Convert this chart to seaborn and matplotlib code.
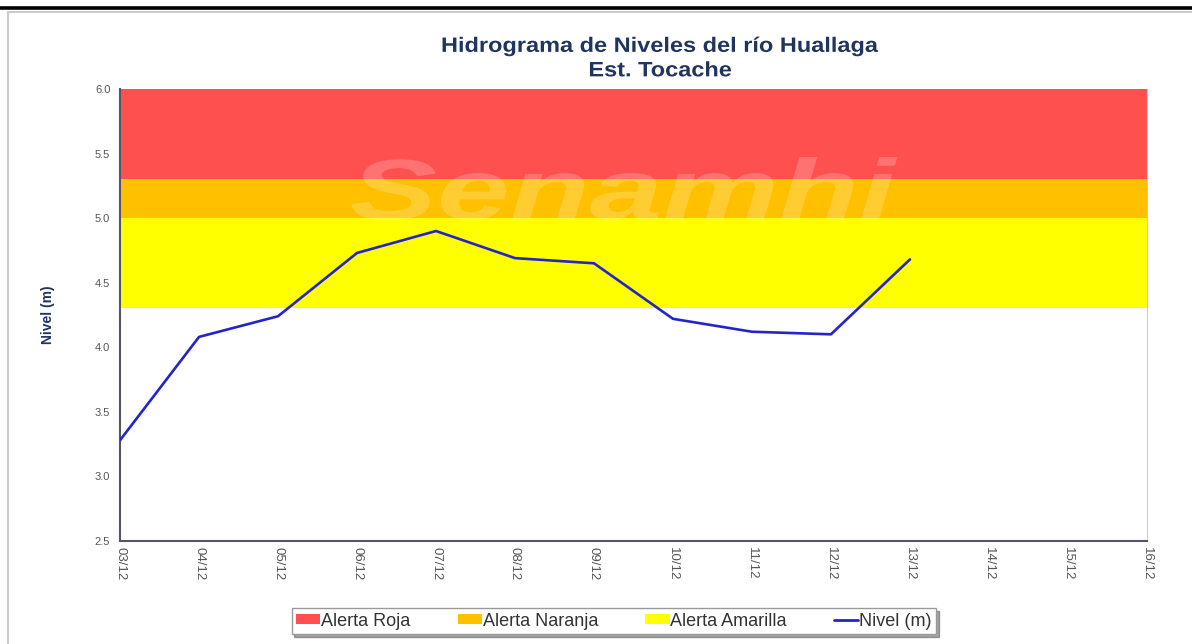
import matplotlib
matplotlib.use("Agg")
import matplotlib.pyplot as plt
from matplotlib.patches import Patch
from matplotlib.lines import Line2D
from matplotlib.patheffects import AbstractPathEffect
from matplotlib.transforms import Affine2D
import seaborn as sns
import pandas as pd

# %% DATA
fechas = ["03/12", "04/12", "05/12", "06/12", "07/12", "08/12", "09/12",
          "10/12", "11/12", "12/12", "13/12", "14/12", "15/12", "16/12"]
nivel = [3.28, 4.08, 4.24, 4.73, 4.90, 4.69, 4.65, 4.22, 4.12, 4.10, 4.68]

alertas = ["Alerta Roja", "Alerta Naranja", "Alerta Amarilla"]
alerta_desde = [5.3, 5.0, 4.3]
alerta_hasta = [6.0, 5.3, 5.0]
alerta_colores = ["#FF5050", "#FFC000", "#FFFF00"]

y_ticks = [2.5, 3.0, 3.5, 4.0, 4.5, 5.0, 5.5, 6.0]


class Stretch(AbstractPathEffect):
    """widen text horizontally around a fixed pixel column"""
    def __init__(self, sx, cx):
        super().__init__()
        self.sx, self.cx = sx, cx

    def draw_path(self, renderer, gc, tpath, affine, rgbFace=None):
        aff = affine + Affine2D().translate(-self.cx, 0).scale(self.sx, 1).translate(self.cx, 0)
        renderer.draw_path(gc, tpath, aff, rgbFace)


# %% PLOT
sns.set_style("white")
plt.rcParams["font.family"] = ["Liberation Sans", "DejaVu Sans"]

fig = plt.figure(figsize=(11.92, 6.44), dpi=100)
ax = fig.add_axes([0.1007, 0.16, 0.8615, 0.7019])

for lo, hi, c in zip(alerta_desde, alerta_hasta, alerta_colores):
    ax.axhspan(lo, hi, color=c, lw=0, zorder=0)

df = pd.DataFrame({"dia": range(len(nivel)), "nivel": nivel})
sns.lineplot(data=df, x="dia", y="nivel", ax=ax, color="#2424C8", lw=1.9, zorder=3)

# watermark
ax.text(6.35, 5.16, "Senamhi", ha="center", va="center", fontsize=62,
        fontweight="bold", fontstyle="italic", color="white", alpha=0.2, zorder=2,
        path_effects=[Stretch(1.52, 620)])

ax.set_xlim(0, len(fechas) - 1)
ax.set_ylim(2.5, 6.0)
ax.set_xticks(range(len(fechas)))
ax.set_xticklabels(fechas, rotation=270)
ax.set_yticks(y_ticks)
ax.set_yticklabels([f"{v:.1f}" for v in y_ticks])
ax.set_xlabel("")
ax.set_ylabel("")
ax.tick_params(direction="in", length=3, width=1, colors="#666666",
               labelcolor="#555555")
ax.tick_params(axis="y", labelsize=8, pad=7)
ax.tick_params(axis="x", labelsize=9.5, pad=4)

for s in ["left", "bottom"]:
    ax.spines[s].set_color("#555566")
    ax.spines[s].set_linewidth(1.5)
ax.spines["top"].set_visible(False)
ax.spines["right"].set_color("#cccccc")
ax.spines["right"].set_linewidth(0.8)

fig.text(0.554, 0.928, "Hidrograma de Niveles del río Huallaga", ha="center", va="center",
         fontsize=15, fontweight="bold", color="#1F3560", path_effects=[Stretch(1.13, 660)])
fig.text(0.554, 0.890, "Est. Tocache", ha="center", va="center",
         fontsize=15, fontweight="bold", color="#1F3560", path_effects=[Stretch(1.13, 660)])
fig.text(0.040, 0.511, "Nivel (m)", rotation=90, ha="center", va="center",
         fontsize=10, fontweight="bold", color="#1F3560")

handles = [Patch(facecolor=c, edgecolor="none") for c in alerta_colores]
handles.append(Line2D([0], [0], color="#2424C8", lw=2))
leg = fig.legend(handles, alertas + ["Nivel (m)"], loc="center",
                 bbox_to_anchor=(0.515, 0.0357), ncol=4, fontsize=13,
                 frameon=True, fancybox=False, shadow=True, edgecolor="#999999",
                 handlelength=1.35, handleheight=0.4, handletextpad=0.05,
                 columnspacing=2.6, borderpad=0.25, borderaxespad=0)
for t in leg.get_texts():
    t.set_color("#333333")

# outer frame
fig.add_artist(Line2D([0, 1], [0.9876, 0.9876], color="black", lw=2.6))
fig.add_artist(Line2D([0.0067, 1], [0.981, 0.981], color="#cccccc", lw=1.5))
fig.add_artist(Line2D([0.0067, 0.0067], [0, 0.981], color="#cccccc", lw=1.5))

fig.savefig("out.png", dpi=100)
